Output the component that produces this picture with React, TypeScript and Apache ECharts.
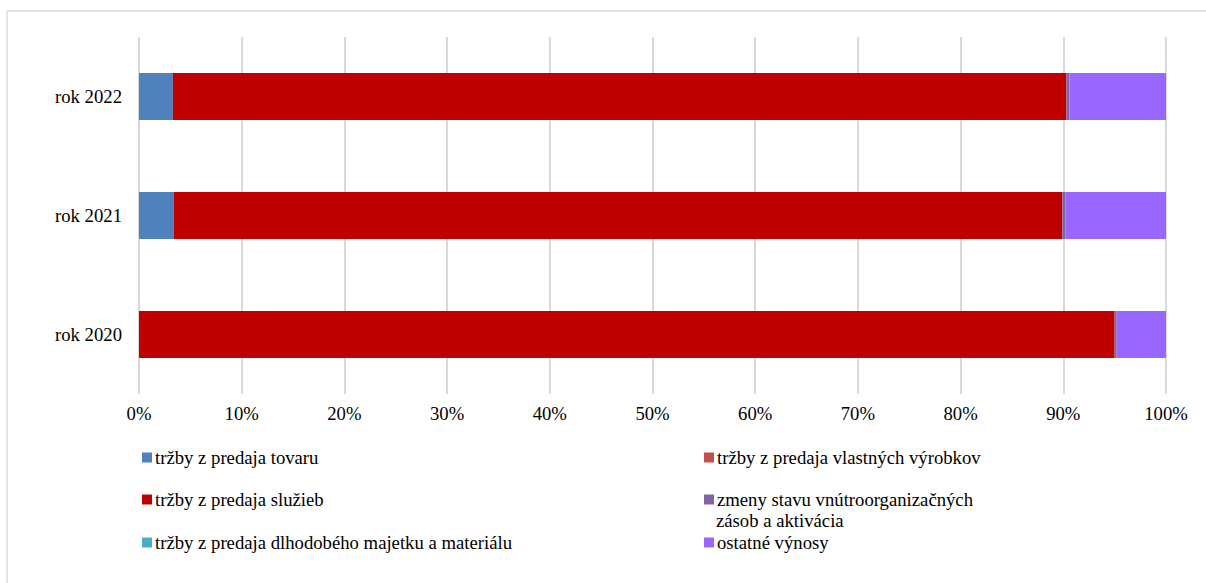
import React, { useEffect, useRef } from "react";
import * as echarts from "echarts";

const categories = ["rok 2020", "rok 2021", "rok 2022"];
const seriesNames = [
  "tržby z predaja tovaru",
  "tržby z predaja vlastných výrobkov",
  "tržby z predaja služieb",
  "zmeny stavu vnútroorganizačných zásob a aktivácia",
  "tržby z predaja dlhodobého majetku a materiálu",
  "ostatné výnosy",
];
const tovar = [0, 3.4, 3.3];
const vyrobky = [0, 0, 0];
const sluzby = [95.0, 86.5, 87.0];
const zmeny = [0.2, 0.3, 0.3];
const majetok = [0, 0, 0];
const ostatne = [4.8, 9.8, 9.4];
const values = [tovar, vyrobky, sluzby, zmeny, majetok, ostatne];
const colors = ["#4F81BD", "#C0504D", "#C00000", "#8064A2", "#4BACC6", "#9966FF"];

const FONT = "'Liberation Serif', 'Times New Roman', serif";
const FS = 18.7;

export default function App() {
  const ref = useRef<HTMLDivElement>(null);
  useEffect(() => {
    const chart = echarts.init(ref.current!, undefined, { renderer: "svg" });
    const legendPos = [
      { left: 142, top: 448 },
      { left: 704, top: 448 },
      { left: 142, top: 490 },
      { left: 704, top: 490 },
      { left: 142, top: 533 },
      { left: 704, top: 533 },
    ];
    chart.setOption({
      animation: false,
      backgroundColor: "#fff",
      grid: { left: 139, right: 40, top: 37, bottom: 189, containLabel: false },
      xAxis: {
        type: "value",
        min: 0,
        max: 100,
        interval: 10,
        axisLabel: {
          formatter: "{value}%",
          color: "#000",
          fontFamily: FONT,
          fontSize: FS,
          margin: 10,
        },
        axisLine: { show: false },
        axisTick: { show: false },
        splitLine: { show: true, lineStyle: { color: "#d9d9d9", width: 2 } },
      },
      yAxis: {
        type: "category",
        data: categories,
        axisLine: { show: false },
        axisTick: { show: false },
        axisLabel: { color: "#000", fontFamily: FONT, fontSize: FS, margin: 17 },
      },
      legend: seriesNames.map((n, i) => ({
        data: [n],
        left: legendPos[i].left,
        top: legendPos[i].top,
        itemWidth: 10,
        itemHeight: 10,
        itemGap: 0,
        icon: "rect",
        selectedMode: false,
        padding: 0,
        formatter: (name: string) =>
          name.startsWith("zmeny stavu") ? "zmeny stavu vnútroorganizačných" : name,
        textStyle: { color: "#000", fontFamily: FONT, fontSize: FS, padding: [0, 0, 0, -2] },
      })),
      graphic: [
        {
          type: "line",
          shape: { x1: 7, y1: 11, x2: 1206, y2: 11 },
          style: { stroke: "#d9d9d9", lineWidth: 1.5 },
          silent: true,
        },
        {
          type: "line",
          shape: { x1: 7, y1: 11, x2: 7, y2: 583 },
          style: { stroke: "#d9d9d9", lineWidth: 1.5 },
          silent: true,
        },
        {
          type: "text",
          left: 716,
          top: 511,
          style: { text: "zásob a aktivácia", fill: "#000", font: `${FS}px ${FONT}` },
          silent: true,
        },
      ],
      series: seriesNames.map((n, i) => ({
        name: n,
        type: "bar",
        stack: "total",
        barWidth: 47,
        data: values[i],
        itemStyle: { color: colors[i] },
      })),
    });
    return () => chart.dispose();
  }, []);
  return (
    <div
      ref={ref}
      style={{ position: "fixed", left: 0, top: 0, width: 1206, height: 583 }}
    />
  );
}
